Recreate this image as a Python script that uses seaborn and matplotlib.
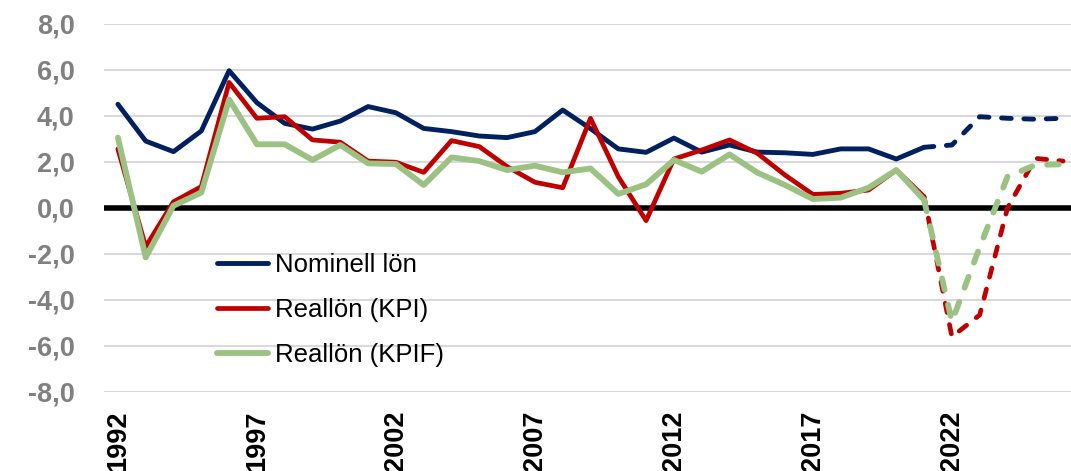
import matplotlib
matplotlib.use("Agg")
import matplotlib.pyplot as plt
import seaborn as sns
import pandas as pd
from matplotlib.lines import Line2D

# ---------------- data ----------------
years = list(range(1992, 2027))
nominal = [4.51, 2.91, 2.45, 3.35, 5.97, 4.58, 3.68, 3.43, 3.78, 4.41,
           4.14, 3.46, 3.32, 3.13, 3.06, 3.32, 4.26, 3.45, 2.57, 2.42,
           3.04, 2.43, 2.74, 2.43, 2.40, 2.33, 2.57, 2.57, 2.13, 2.64,
           2.74, 3.97, 3.90, 3.86, 3.90]
real_kpi = [2.57, -1.68, 0.27, 0.93, 5.46, 3.90, 3.97, 2.96, 2.86, 2.04,
            1.99, 1.55, 2.93, 2.67, 1.80, 1.12, 0.88, 3.90, 1.36, -0.55,
            2.13, 2.52, 2.96, 2.38, 1.43, 0.59, 0.64, 0.78, 1.65, 0.49,
            -5.60, -4.65, 0.00, 2.16, 2.04]
real_kpif = [3.06, -2.15, 0.10, 0.67, 4.72, 2.77, 2.77, 2.09, 2.74, 1.94,
             1.91, 1.00, 2.20, 2.04, 1.65, 1.84, 1.55, 1.72, 0.61, 1.03,
             2.09, 1.58, 2.33, 1.54, 1.00, 0.39, 0.45, 0.88, 1.65, 0.35,
             -4.94, -1.70, 1.36, 1.87, 1.90]
series_names = ["Nominell lön", "Reallön (KPI)", "Reallön (KPIF)"]
last_outcome_year = 2021
tick_years = [1992, 1997, 2002, 2007, 2012, 2017, 2022]
y_ticks = [-8, -6, -4, -2, 0, 2, 4, 6, 8]

colors = {"Nominell lön": "#002060", "Reallön (KPI)": "#C00000", "Reallön (KPIF)": "#9BC283"}
widths = {"Nominell lön": 3.5, "Reallön (KPI)": 3.4, "Reallön (KPIF)": 4.2}

rows = []
for name, vals in zip(series_names, [nominal, real_kpi, real_kpif]):
    for yr, v in zip(years, vals):
        rows.append({"år": yr, "värde": v, "serie": name})
df = pd.DataFrame(rows)

# ---------------- figure ----------------
sns.set_theme(style="white")
plt.rcParams["font.family"] = ["Liberation Sans", "DejaVu Sans"]

W, H = 1071, 471
fig = plt.figure(figsize=(W / 100, H / 100), dpi=100)
ax = fig.add_axes([104 / W, 79 / H, (1077 - 104) / W, 368 / H])

# grid + zero line
for yv in y_ticks:
    if yv != 0:
        ax.axhline(yv, color="#d9d9d9", lw=1.5, zorder=0)
ax.axhline(0, color="black", lw=4.0, zorder=1)

for i, name in enumerate(series_names):
    sub = df[df["serie"] == name]
    outcome = sub[sub["år"] <= last_outcome_year]
    forecast = sub[sub["år"] >= last_outcome_year]
    sns.lineplot(data=outcome, x="år", y="värde", color=colors[name],
                 linewidth=widths[name], ax=ax, legend=False, zorder=3 + i)
    sns.lineplot(data=forecast, x="år", y="värde", color=colors[name],
                 linewidth=widths[name], ax=ax, legend=False, zorder=3 + i)
    ln = ax.lines[-1]
    ln.set_linestyle((0, (2.0, 2.6)))
    ln.set_dash_capstyle("round")

ax.set_xlim(1991.5, 2026.5)
ax.set_ylim(-8, 8)
ax.set_xticks(tick_years)
ax.set_xticklabels([str(t) for t in tick_years], rotation=90, fontsize=19.5,
                   fontweight="bold", color="black")
ax.set_yticks(y_ticks)
ax.set_yticklabels([f"{v:.1f}".replace(".", ",") for v in y_ticks],
                   fontsize=19.5, fontweight="bold", color="#808080")
ax.tick_params(axis="y", length=0, pad=21)
ax.tick_params(axis="x", length=0, pad=13)
ax.set_xlabel("")
ax.set_ylabel("")
for s in ax.spines.values():
    s.set_visible(False)

handles = [Line2D([0], [0], color=colors[n], lw=widths[n], solid_capstyle="round")
           for n in series_names]
fig.legend(handles, series_names, loc="center left",
           bbox_to_anchor=(217 / W, (H - 310) / H), frameon=False,
           fontsize=18.5, handlelength=2.0, handletextpad=0.25,
           labelspacing=0.82, borderpad=0, borderaxespad=0, labelcolor="black")

fig.savefig("out.png", dpi=100)
